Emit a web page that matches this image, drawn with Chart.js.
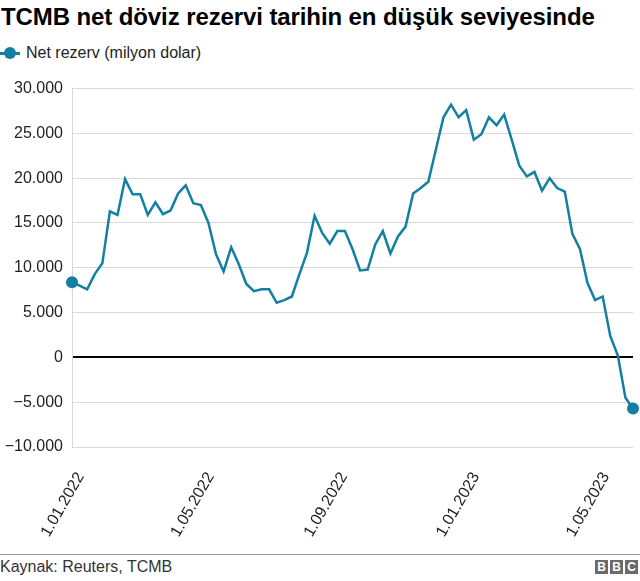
<!DOCTYPE html>
<html lang="tr">
<head>
<meta charset="utf-8">
<script src="https://cdn.jsdelivr.net/npm/chart.js@4.4.0/dist/chart.umd.min.js"></script>
<style>
body { margin: 0; background: #fff; font-family: "Liberation Sans", Arial, sans-serif; color: #222; }
#wrap { position: relative; width: 640px; height: 581px; overflow: hidden; }
h1 { position: absolute; left: 1px; top: 3px; margin: 0; font-size: 24px; line-height: 28px; font-weight: bold; color: #000; white-space: nowrap; letter-spacing: -0.1px; }
#legend { position: absolute; left: 0; top: 43px; font-size: 16px; line-height: 20px; display: flex; align-items: center; }
#legend .key { position: relative; width: 20px; height: 20px; margin-right: 6px; }
#legend .key i { position: absolute; left: 0; top: 9px; width: 20px; height: 2.5px; background: #1380a1; }
#legend .key b { position: absolute; left: 4px; top: 4px; width: 12px; height: 12px; border-radius: 50%; background: #1380a1; }
canvas { position: absolute; left: 0; top: 70px; }
#rule { position: absolute; left: 0; top: 554px; width: 640px; border-top: 1px solid #999; }
#source { position: absolute; left: 0; top: 558px; font-size: 16px; line-height: 18px; color: #333; }
#bbc { position: absolute; right: 2px; top: 560px; display: flex; gap: 2px; }
#bbc span { width: 13px; height: 14px; background: #6b6b6b; color: #fff; font-weight: bold; font-size: 12px; line-height: 14px; text-align: center; }
</style>
</head>
<body>
<div id="wrap">
	<h1>TCMB net döviz rezervi tarihin en düşük seviyesinde</h1>
	<div id="legend"><span class="key"><i></i><b></b></span>Net rezerv (milyon dolar)</div>
	<canvas id="myChart" width="640" height="480"></canvas>
	<div id="rule"></div>
	<div id="source">Kaynak: Reuters, TCMB</div>
	<div id="bbc"><span>B</span><span>B</span><span>C</span></div>
</div>
<script>
// weekly readings, first week 24.12.2021
const firstWeek = "2021-12-24";

const netReserve = [
	8400, 8000, 7600, 9300, 10500, 16300, 15900, 19900, 18200, 18200,
	15900, 17300, 16000, 16400, 18300, 19200, 17200, 17000, 15000, 11500,
	9600, 12300, 10400, 8200, 7400, 7600, 7600, 6100, 6400, 6800,
	9300, 11700, 15800, 13900, 12700, 14100, 14100, 12100, 9700, 9800,
	12600, 14100, 11600, 13500, 14600, 18300, 18900, 19600, 23200, 26800,
	28200, 26800, 27600, 24300, 24900, 26800, 25900, 27100, 24300, 21400,
	20200, 20700, 18600, 20000, 18900, 18500, 13800, 12100, 8300, 6400,
	6800, 2400, 200, -4500, -5700,
];

const xTickDates = ["2022-01-01", "2022-05-01", "2022-09-01", "2023-01-01", "2023-05-01"];
const yTicks = [-10000, -5000, 0, 5000, 10000, 15000, 20000, 25000, 30000];

const DAY = 86400000;
const start = Date.parse(firstWeek);
const points = netReserve.map((v, i) => ({ x: start + i * 7 * DAY, y: v }));
const lastIndex = netReserve.length - 1;

function fmtDate(ms) {
	const d = new Date(ms);
	const mm = String(d.getUTCMonth() + 1).padStart(2, "0");
	return d.getUTCDate() + "." + mm + "." + d.getUTCFullYear();
}

function fmtNum(v) {
	const s = String(Math.abs(v)).replace(/\B(?=(\d{3})+(?!\d))/g, ".");
	return (v < 0 ? "\u2212" : "") + s;
}

function drawChart() {
	const ctx = document.getElementById("myChart");
	new Chart(ctx, {
		type: "line",
		data: {
			datasets: [
				{
					data: points,
					borderColor: "#1380a1",
					backgroundColor: "#1380a1",
					borderWidth: 2.5,
					tension: 0,
					clip: false,
					pointRadius: (c) => (c.dataIndex === 0 || c.dataIndex === lastIndex ? 6 : 0),
					pointBorderWidth: 0,
					pointHoverRadius: 0,
				},
			],
		},
		options: {
			responsive: false,
			animation: false,
			devicePixelRatio: 1,
			layout: { padding: { top: 17, right: 7, left: 0, bottom: 0 } },
			plugins: {
				legend: { display: false },
				tooltip: { enabled: false },
			},
			scales: {
				x: {
					type: "linear",
					min: points[0].x,
					max: points[lastIndex].x,
					grid: { display: false },
					border: { display: false },
					afterFit: (scale) => { scale.height = 103; },
					afterBuildTicks: (scale) => {
						scale.ticks = xTickDates.map((d) => ({ value: Date.parse(d) }));
					},
					ticks: {
						autoSkip: false,
						maxRotation: 60,
						minRotation: 60,
						padding: 14,
						color: "#222",
						font: { family: "Liberation Sans", size: 16 },
						callback: (v) => fmtDate(v),
					},
				},
				y: {
					min: -10000,
					max: 30000,
					afterFit: (scale) => { scale.width = 72; },
					afterBuildTicks: (scale) => {
						scale.ticks = yTicks.map((v) => ({ value: v }));
					},
					grid: {
						drawTicks: false,
						color: (c) => (c.tick && c.tick.value === 0 ? "#000" : "#d9d9d9"),
						lineWidth: (c) => (c.tick && c.tick.value === 0 ? 2 : 1),
					},
					border: { display: true, color: "#d9d9d9", width: 1 },
					ticks: {
						padding: 9,
						color: "#222",
						font: { family: "Liberation Sans", size: 16 },
						callback: (v) => fmtNum(v),
					},
				},
			},
		},
	});
}

drawChart();
</script>
</body>
</html>
